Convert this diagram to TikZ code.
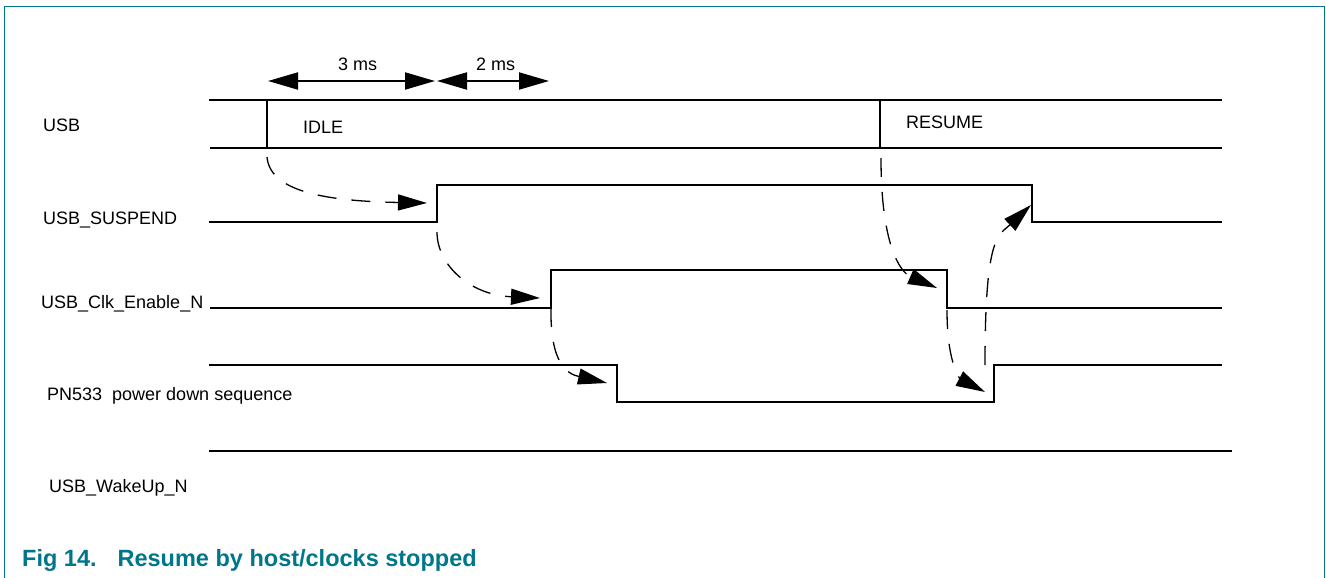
\documentclass[tikz,border=0pt]{standalone}
\usepackage{fontspec}
\setmainfont{Liberation Sans}
\usetikzlibrary{arrows.meta}
\definecolor{nxpteal}{RGB}{0,118,138}
\begin{document}
\begin{tikzpicture}[x=1pt,y=-1pt,
  sig/.style={line width=2.2pt, line cap=butt, line join=miter},
  lbl/.style={anchor=base west, inner sep=0pt, font=\fontsize{18}{20}\selectfont},
  evt/.style={line width=1.3pt, dash pattern=on 19pt off 15pt, -{Triangle[length=29pt,width=16pt]}},
  dimarrow/.style={line width=2pt, {Triangle[length=30pt,width=17pt]}-{Triangle[length=30pt,width=17pt]}}]
\useasboundingbox (0,0) rectangle (1326,578);
% frame
\draw[nxpteal, line width=1.3pt] (4.5,578) -- (4.5,6.5) -- (1324.5,6.5) -- (1324.5,578);

% signal labels
\node[lbl] (lusb)  at (43,131) {USB};
\node[lbl] (lsusp) at (43,224) {USB\_SUSPEND};
\node[lbl] (lclk)  at (41,308) {USB\_Clk\_Enable\_N};
\node[lbl] (lpn)   at (47,400) {PN533\ \ power down sequence};
\node[lbl] (lwake) at (49,492) {USB\_WakeUp\_N};
\node[lbl] (lidle) at (303,133) {IDLE};
\node[lbl] (lres)  at (906,128.5) {RESUME};
\node[lbl] (l3ms)  at (338,70.7) {3 ms};
\node[lbl] (l2ms)  at (476,70.7) {2 ms};

% key coordinates
\coordinate (d0) at (268,81);
\coordinate (d1) at (435,81);
\coordinate (d2) at (437,81);
\coordinate (d3) at (549,81);

\coordinate (idleTop) at (267,100);
\coordinate (idleBot) at (267,148);
\coordinate (resTop) at (880,100);
\coordinate (resBot) at (880,148);

% USB bus
\draw[sig] (209,100) -- (1222,100);
\draw[sig] (210,148) -- (1222,148);
\draw[sig] (idleTop) -- (idleBot);
\draw[sig] (resTop) -- (resBot);

% USB_SUSPEND
\draw[sig] (209,222) -- (437,222) -- (437,185) -- (1032,185) -- (1032,222) -- (1222,222);
% USB_Clk_Enable_N
\draw[sig] (210,308) -- (551,308) -- (551,270) -- (947,270) -- (947,308) -- (1222,308);
% PN533 power down
\draw[sig] (209,365) -- (617,365) -- (617,402) -- (994,402) -- (994,365) -- (1222,365);
% USB_WakeUp_N
\draw[sig] (209,451) -- (1232,451);

% durations
\draw[dimarrow] (d0) -- (d1);
\draw[dimarrow] (d2) -- (d3);

% event coordinates
\coordinate (e1s) at (267,157);
\coordinate (e1t) at (427,203);
\coordinate (e2s) at (437,232);
\coordinate (e2t) at (540,298);
\coordinate (e3s) at (551,308);
\coordinate (e3t) at (607,383);
\coordinate (e4s) at (881,158);
\coordinate (e4t) at (937,288);
\coordinate (e5s) at (947,310);
\coordinate (e5t) at (985,392);
\coordinate (e6s) at (985,365);
\coordinate (e6t) at (1031,205);

% causal dashed arrows
\draw[evt] (e1s) .. controls (270,190) and (320,201) .. (e1t);
\draw[evt] (e2s) .. controls (437,265) and (470,295) .. (e2t);
\draw[evt] (e3s) .. controls (550,365) and (568,374) .. (e3t);
\draw[evt] (e4s) .. controls (881,245) and (900,272) .. (e4t);
\draw[evt] (e5s) .. controls (947,368) and (962,380) .. (e5t);
\draw[evt] (e6s) .. controls (985,235) and (998,236) .. (e6t);

% caption
\node[anchor=base west, inner sep=0pt, text=nxpteal,
      font=\fontsize{23.5}{26}\selectfont\bfseries] (cap) at (22,566)
      {Fig 14.\hspace{21pt}Resume by host/clocks stopped};
\end{tikzpicture}
\end{document}
